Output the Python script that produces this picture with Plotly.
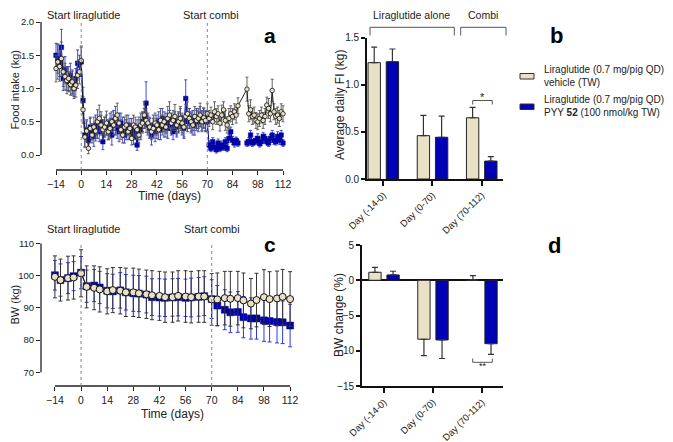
import plotly.graph_objects as go

# The page body adds an 8 px margin; the figure is sized and positioned to compensate.
OFF = 8
W, H = 665, 434
def px(x): return (x - OFF) / W
def py(y): return 1 - (y - OFF) / H

FONT = "Liberation Sans, Arial, sans-serif"
BEIGE = "#E9E1C6"
BLUE = "#0000B4"
BLUE_ERR = "#2B3AD8"

# ---------------- Panel a: daily food intake ----------------
fi_days = list(range(-14, 113))
fi_vehicle = [
    1.30, 1.40, 1.33, 1.45, 1.25, 1.18, 1.12, 1.15, 1.06, 1.10, 1.00, 1.05, 1.20, 1.25, 1.42,
    0.68, 0.27, 0.36, 0.10, 0.40, 0.30, 0.42, 0.36, 0.50, 0.55, 0.45, 0.38, 0.42, 0.48, 0.35, 0.40, 0.50, 0.45, 0.55, 0.60,
    0.48, 0.38, 0.30, 0.42, 0.45, 0.35, 0.40, 0.25, 0.45, 0.42, 0.38, 0.30, 0.45, 0.48, 0.60, 0.52, 0.48, 0.42, 0.35, 0.40,
    0.48, 0.45, 0.38, 0.52, 0.45, 0.50, 0.42, 0.55, 0.60, 0.48, 0.52, 0.58, 0.45, 0.50, 0.55, 0.48, 0.42, 0.58, 0.62, 0.55,
    0.50, 0.45, 0.58, 0.52, 0.55, 0.60, 0.50, 0.56, 0.52, 0.62, 0.55, 0.60, 0.50, 0.65, 0.58, 0.62, 0.48, 0.60, 0.68, 0.52,
    0.45, 0.55, 0.62, 0.58, 0.65, 0.60, 0.74, None, None, None, None, 0.99, 0.62, 0.68, 0.58, 0.60, 0.52, 0.50, 0.55, 0.60,
    0.52, 0.58, 0.75, 0.70, 0.62, 0.97, 0.65, 0.58, 0.60, 0.55, 0.65, 0.62,
]
fi_vehicle_err = [
    0.20, 0.26, 0.22, 0.25, 0.22, 0.20, 0.20, 0.18, 0.16, 0.18, 0.15, 0.18, 0.20, 0.18, 0.22,
    0.20, 0.15, 0.15, 0.08, 0.15, 0.12, 0.15, 0.15, 0.18, 0.20, 0.15, 0.15, 0.15, 0.18, 0.12, 0.15, 0.15, 0.15, 0.18, 0.18,
    0.15, 0.15, 0.12, 0.15, 0.15, 0.12, 0.15, 0.10, 0.15, 0.15, 0.15, 0.12, 0.18, 0.15, 0.20, 0.18, 0.15, 0.15, 0.12, 0.15,
    0.15, 0.15, 0.15, 0.18, 0.15, 0.15, 0.15, 0.18, 0.20, 0.15, 0.15, 0.18, 0.15, 0.15, 0.18, 0.15, 0.15, 0.18, 0.18, 0.15,
    0.15, 0.15, 0.15, 0.15, 0.15, 0.18, 0.15, 0.15, 0.15, 0.15, 0.12, 0.12, 0.12, 0.15, 0.12, 0.12, 0.12, 0.15, 0.12, 0.15,
    0.12, 0.15, 0.12, 0.12, 0.12, 0.12, 0.12, 0, 0, 0, 0, 0.18, 0.12, 0.15, 0.12, 0.12, 0.12, 0.12, 0.12, 0.12,
    0.12, 0.12, 0.12, 0.15, 0.12, 0.17, 0.12, 0.12, 0.12, 0.12, 0.12, 0.12,
]
fi_pyy = [
    1.50, 1.45, 1.38, 1.62, 1.15, 1.28, 1.15, 1.10, 1.20, 1.08, 1.00, 1.15, 1.38, 1.35, 1.40,
    0.82, 0.30, 0.38, 0.22, 0.42, 0.35, 0.28, 0.45, 0.40, 0.35, 0.50, 0.20, 0.42, 0.45, 0.38, 0.48, 0.30, 0.52, 0.45, 0.40,
    0.35, 0.48, 0.42, 0.30, 0.38, 0.45, 0.35, 0.40, 0.28, 0.35, 0.15, 0.42, 0.38, 0.50, 0.55, 0.78, 0.45, 0.40, 0.30, 0.45,
    0.35, 0.40, 0.50, 0.38, 0.55, 0.42, 0.48, 0.40, 0.52, 0.45, 0.35, 0.50, 0.42, 0.48, 0.55, 0.45, 0.40, 0.85, 0.50, 0.55,
    0.48, 0.52, 0.45, 0.55, 0.50, 0.58, 0.52, 0.55, 0.50, 0.50, 0.15, 0.10, 0.20, 0.12, 0.08, 0.18, 0.10, 0.15, 0.12, 0.20,
    0.10, 0.25, 0.35, 0.22, 0.18, 0.22, 0.18, None, None, None, None, 0.18, 0.20, 0.30, 0.18, 0.20, 0.22, 0.25, 0.17, 0.20,
    0.28, 0.25, 0.20, 0.18, 0.25, 0.30, 0.22, 0.20, 0.28, 0.22, 0.30, 0.18,
]
fi_pyy_err = [
    0.18, 0.22, 0.20, 0.27, 0.18, 0.20, 0.18, 0.15, 0.18, 0.18, 0.12, 0.15, 0.20, 0.15, 0.22,
    0.20, 0.18, 0.15, 0.12, 0.15, 0.12, 0.15, 0.15, 0.15, 0.15, 0.15, 0.12, 0.15, 0.15, 0.15, 0.15, 0.15, 0.15, 0.15, 0.15,
    0.15, 0.15, 0.15, 0.12, 0.15, 0.15, 0.12, 0.15, 0.12, 0.12, 0.08, 0.15, 0.15, 0.15, 0.15, 0.32, 0.15, 0.15, 0.15, 0.15,
    0.15, 0.15, 0.15, 0.15, 0.15, 0.15, 0.15, 0.15, 0.15, 0.15, 0.12, 0.15, 0.15, 0.15, 0.15, 0.15, 0.15, 0.28, 0.15, 0.15,
    0.15, 0.15, 0.15, 0.15, 0.15, 0.15, 0.15, 0.15, 0.15, 0.15, 0.06, 0.05, 0.06, 0.06, 0.05, 0.06, 0.05, 0.06, 0.05, 0.06,
    0.05, 0.06, 0.07, 0.06, 0.06, 0.05, 0.05, 0, 0, 0, 0, 0.05, 0.06, 0.07, 0.05, 0.05, 0.06, 0.07, 0.05, 0.06,
    0.06, 0.06, 0.05, 0.05, 0.06, 0.07, 0.06, 0.05, 0.07, 0.06, 0.07, 0.05,
]

# ---------------- Panel c: body weight ----------------
bw_days = [-14, -11, -7, -4, 0, 3, 7, 10, 14, 17, 21, 24, 28, 31, 35, 38, 42, 45, 49, 52, 56,
           59, 63, 66, 70, 73, 77, 80, 84, 87, 91, 94, 98, 101, 105, 108, 112]
bw_vehicle = [99.6, 98.6, 99.2, 99.4, 100.7, 96.5, 96.2, 95.7, 95.1, 95.5, 95.3, 94.8, 94.8, 94.5,
              94.2, 93.9, 93.7, 93.3, 93.3, 93.7, 93.5, 93.3, 93.5, 93.5, 92.6, 92.6, 93.0, 92.8,
              93.0, 92.3, 91.3, 92.4, 93.3, 92.7, 92.9, 93.4, 92.7]
bw_vehicle_err = [6.5, 6.5, 6.8, 6.7, 7.3, 6.5, 6.8, 7.0, 7.0, 7.0, 7.2, 7.5, 7.5, 7.5, 7.5, 7.6,
                  7.6, 7.8, 7.8, 7.8, 8.0, 8.0, 8.0, 8.0, 8.0, 8.2, 8.3, 8.5, 8.3, 8.5, 7.8, 8.3,
                  8.5, 8.5, 8.5, 8.5, 8.5]
bw_pyy = [100.1, 98.6, 99.2, 99.8, 100.9, 96.7, 96.9, 96.3, 95.3, 95.1, 95.4, 94.8, 94.5, 94.4,
          94.1, 93.3, 93.2, 93.1, 93.2, 93.3, 93.1, 93.2, 93.4, 93.6, 92.7, 90.7, 89.4, 88.6,
          88.7, 87.1, 86.7, 86.7, 86.1, 85.9, 85.6, 85.5, 84.5]
bw_pyy_err = [4.6, 5.0, 4.8, 4.5, 5.0, 5.0, 5.0, 5.0, 5.3, 5.3, 5.5, 5.5, 5.6, 5.6, 5.7, 5.7,
              5.8, 5.8, 5.8, 5.8, 5.8, 6.0, 6.0, 6.0, 6.0, 6.2, 6.2, 6.3, 6.3, 6.4, 6.4, 6.4,
              6.5, 6.5, 6.5, 6.6, 6.6]

# ---------------- Panels b and d: period summaries ----------------
periods = ["Day (-14-0)", "Day (0-70)", "Day (70-112)"]
fi_avg_vehicle = [1.235, 0.46, 0.65]
fi_avg_vehicle_err = [0.165, 0.215, 0.11]
fi_avg_pyy = [1.245, 0.443, 0.19]
fi_avg_pyy_err = [0.135, 0.225, 0.047]

bwc_vehicle = [1.13, -8.37, 0.05]
bwc_vehicle_err_up = [0.71, 0, 0.6]
bwc_vehicle_err_dn = [0, 2.33, 0]
bwc_pyy = [0.75, -8.47, -9.0]
bwc_pyy_err_up = [0.53, 0, 0]
bwc_pyy_err_dn = [0, 2.63, 1.5]

legend_labels = ["Liraglutide (0.7 mg/pig QD) +<br>vehicle (TW)",
                 "Liraglutide (0.7 mg/pig QD) +<br>PYY <b>52</b> (100 nmol/kg TW)"]

fig = go.Figure()

# Panel a traces
fig.add_trace(go.Scatter(
    x=fi_days, y=fi_pyy, mode="lines+markers", xaxis="x", yaxis="y",
    line=dict(color=BLUE, width=1), connectgaps=False,
    marker=dict(symbol="square", size=4.5, color=BLUE, line=dict(color="#00007a", width=0.5)),
    error_y=dict(type="data", array=fi_pyy_err, color=BLUE_ERR, thickness=0.9, width=1.5),
    showlegend=False, cliponaxis=False))
fig.add_trace(go.Scatter(
    x=fi_days, y=fi_vehicle, mode="lines+markers", xaxis="x", yaxis="y",
    line=dict(color="#222222", width=1), connectgaps=True,
    marker=dict(symbol="circle", size=4.5, color=BEIGE, line=dict(color="#111111", width=0.8)),
    error_y=dict(type="data", array=fi_vehicle_err, color="#555555", thickness=0.9, width=1.5),
    showlegend=False, cliponaxis=False))

# Panel c traces
fig.add_trace(go.Scatter(
    x=bw_days, y=bw_pyy, mode="lines+markers", xaxis="x3", yaxis="y3",
    line=dict(color=BLUE, width=1),
    marker=dict(symbol="square", size=7, color=BLUE, line=dict(color="#00007a", width=0.5)),
    error_y=dict(type="data", array=bw_pyy_err, color=BLUE_ERR, thickness=1, width=2),
    showlegend=False, cliponaxis=False))
fig.add_trace(go.Scatter(
    x=bw_days, y=bw_vehicle, mode="lines+markers", xaxis="x3", yaxis="y3",
    line=dict(color="#222222", width=1),
    marker=dict(symbol="circle", size=7, color=BEIGE, line=dict(color="#111111", width=1)),
    error_y=dict(type="data", array=bw_vehicle_err, color="#333333", thickness=1, width=2),
    showlegend=False, cliponaxis=False))

# Panel b bars
BW_ = 0.251
fig.add_trace(go.Bar(
    x=periods, y=fi_avg_vehicle, xaxis="x2", yaxis="y2", width=BW_, offset=-0.31,
    marker=dict(color=BEIGE, line=dict(color="#222222", width=1)),
    error_y=dict(type="data", array=fi_avg_vehicle_err, arrayminus=[0, 0, 0], symmetric=False,
                 color="#333333", thickness=1.2, width=3),
    showlegend=False))
fig.add_trace(go.Bar(
    x=periods, y=fi_avg_pyy, xaxis="x2", yaxis="y2", width=BW_, offset=0.06,
    marker=dict(color=BLUE, line=dict(color="#222222", width=1)),
    error_y=dict(type="data", array=fi_avg_pyy_err, arrayminus=[0, 0, 0], symmetric=False,
                 color="#333333", thickness=1.2, width=3),
    showlegend=False))

# Panel d bars
fig.add_trace(go.Bar(
    x=periods, y=bwc_vehicle, xaxis="x4", yaxis="y4", width=BW_, offset=-0.31,
    marker=dict(color=BEIGE, line=dict(color="#222222", width=1)),
    error_y=dict(type="data", array=bwc_vehicle_err_up, arrayminus=bwc_vehicle_err_dn, symmetric=False,
                 color="#333333", thickness=1.2, width=3),
    showlegend=False))
fig.add_trace(go.Bar(
    x=periods, y=bwc_pyy, xaxis="x4", yaxis="y4", width=BW_, offset=0.06,
    marker=dict(color=BLUE, line=dict(color="#222222", width=1)),
    error_y=dict(type="data", array=bwc_pyy_err_up, arrayminus=bwc_pyy_err_dn, symmetric=False,
                 color="#333333", thickness=1.2, width=3),
    showlegend=False))

tickfont = dict(family=FONT, size=10.5, color="#222222")
ytickfont = dict(family=FONT, size=9.5, color="#222222")
common_time_x = dict(tickmode="array", tickvals=[-14, 0, 14, 28, 42, 56, 70, 84, 98, 112],
                     ticks="outside", ticklen=4, tickwidth=1.3, tickcolor="#222222",
                     showline=False, showgrid=False, zeroline=False, tickfont=tickfont,
                     automargin=False)
common_y = dict(ticks="outside", ticklen=4, tickwidth=1.3, tickcolor="#222222",
                showline=False, showgrid=False, zeroline=False, tickfont=ytickfont,
                automargin=False)

fig.update_layout(
    template="none",
    width=W, height=H, margin=dict(l=0, r=0, t=0, b=0, pad=0),
    plot_bgcolor="white", paper_bgcolor="white",
    font=dict(family=FONT, color="#222222"),
    barmode="overlay",
    xaxis=dict(domain=[px(41), px(285.7)], range=[-22.33, 113.5], anchor="y", **common_time_x),
    yaxis=dict(domain=[py(170), py(22)], range=[-0.2256, 2.0], anchor="x",
               tickvals=[0, 0.5, 1.0, 1.5, 2.0], tickformat=".1f", **common_y),
    xaxis3=dict(domain=[px(41), px(292.9)], range=[-21.45, 113.5], anchor="y3", **common_time_x),
    yaxis3=dict(domain=[py(386), py(243.3)], range=[65.75, 110], anchor="x3",
                tickvals=[70, 80, 90, 100, 110], **common_y),
    xaxis2=dict(domain=[px(367), px(503)], range=[-0.331, 2.433], anchor="y2",
                showline=True, linecolor="#111111", linewidth=1.8, ticks="outside", ticklen=5,
                tickwidth=1.8, tickcolor="#111111", tickangle=-45, showgrid=False, automargin=False,
                tickfont=dict(family=FONT, size=9.5, color="#222222")),
    yaxis2=dict(domain=[py(179), py(37.7)], range=[0, 1.5], anchor="x2",
                showline=True, linecolor="#111111", linewidth=1.8, ticks="outside", ticklen=4,
                tickwidth=1.5, tickcolor="#111111", showgrid=False, zeroline=False, automargin=False,
                tickvals=[0, 0.5, 1.0, 1.5], tickformat=".1f",
                tickfont=dict(family=FONT, size=10, color="#222222")),
    xaxis4=dict(domain=[px(362), px(503)], range=[-0.449, 2.43], anchor="y4",
                showline=True, linecolor="#111111", linewidth=1.8, ticks="outside", ticklen=5,
                tickwidth=1.8, tickcolor="#111111", tickangle=-45, showgrid=False, automargin=False,
                tickfont=dict(family=FONT, size=9.5, color="#222222")),
    yaxis4=dict(domain=[py(386), py(245)], range=[-15, 5], anchor="x4",
                showline=True, linecolor="#111111", linewidth=1.8, ticks="outside", ticklen=4,
                tickwidth=1.5, tickcolor="#111111", showgrid=False, automargin=False,
                zeroline=True, zerolinecolor="#111111", zerolinewidth=1.8,
                tickvals=[-15, -10, -5, 0, 5],
                tickfont=dict(family=FONT, size=10, color="#222222")),
)

shapes = []
axis_line = dict(color="#222222", width=1.3)
shapes.append(dict(type="line", xref="x domain", x0=0, x1=0, yref="y", y0=0, y1=2.0, line=axis_line))
shapes.append(dict(type="line", xref="x", x0=-14, x1=112, yref="y domain", y0=0, y1=0, line=axis_line))
shapes.append(dict(type="line", xref="x3 domain", x0=0, x1=0, yref="y3", y0=70, y1=110, line=axis_line))
shapes.append(dict(type="line", xref="x3", x0=-14, x1=112, yref="y3 domain", y0=0, y1=0, line=axis_line))
for d in (0, 70):
    shapes.append(dict(type="line", xref="x", x0=d, x1=d, yref="y domain", y0=0, y1=1,
                       line=dict(color="#888888", width=1, dash="dot")))
    shapes.append(dict(type="line", xref="x3", x0=d, x1=d, yref="y3 domain", y0=0, y1=1,
                       line=dict(color="#888888", width=1, dash="dot")))

def bracket(x0, x1, ytop, ybot, color="#444444", w=1):
    pts = f"M {px(x0)} {py(ybot)} L {px(x0)} {py(ytop)} L {px(x1)} {py(ytop)} L {px(x1)} {py(ybot)}"
    return dict(type="path", xref="paper", yref="paper", path=pts, line=dict(color=color, width=w))

shapes.append(bracket(370, 454.3, 27.3, 35.5, "#555555", 1))
shapes.append(bracket(460.7, 506, 27.3, 35.5, "#555555", 1))
shapes.append(bracket(472.7, 492.3, 100.5, 104.5, "#555555", 1))
shapes.append(bracket(472.7, 492.3, 362.3, 358.5, "#555555", 1))

shapes.append(dict(type="rect", xref="paper", yref="paper", x0=px(520), x1=px(534), y0=py(79), y1=py(73.5),
                   fillcolor=BEIGE, line=dict(color="#333333", width=1)))
shapes.append(dict(type="rect", xref="paper", yref="paper", x0=px(520), x1=px(534), y0=py(109.5), y1=py(104),
                   fillcolor=BLUE, line=dict(color="#333333", width=1)))
fig.update_layout(shapes=shapes)

ann = []
def text(x, y, s, size=11, bold=False, xanchor="center", angle=0, color="#222222"):
    ann.append(dict(xref="paper", yref="paper", x=px(x), y=py(y), text=(f"<b>{s}</b>" if bold else s),
                    showarrow=False, xanchor=xanchor, yanchor="middle", textangle=angle,
                    font=dict(family=FONT, size=size, color=color)))

text(83, 15, "Start liraglutide", 11)
text(211, 15, "Start combi", 11)
text(270, 35, "a", 21, bold=True, color="#000000")
text(14.5, 90, "Food intake (kg)", 11, angle=-90)
text(169, 196, "Time (days)", 12)

text(83, 229, "Start liraglutide", 11)
text(212, 229, "Start combi", 11)
text(270, 244, "c", 21, bold=True, color="#000000")
text(14.5, 305, "BW (kg)", 11, angle=-90)
text(172, 414, "Time (days)", 12)

text(411.7, 15, "Liraglutide alone", 10.5)
text(483.3, 15, "Combi", 10.5)
text(556.7, 35, "b", 22, bold=True, color="#000000")
text(340, 105, "Average daily FI (kg)", 12, angle=-90)
text(482.5, 97, "*", 11)

text(554.3, 245, "d", 22, bold=True, color="#000000")
text(339, 315, "BW change (%)", 12, angle=-90)
text(482.5, 366, "**", 9)

ann.append(dict(xref="paper", yref="paper", x=px(542), y=py(76.3), text=legend_labels[0], showarrow=False,
                xanchor="left", yanchor="middle", align="left",
                font=dict(family=FONT, size=10, color="#222222")))
ann.append(dict(xref="paper", yref="paper", x=px(542), y=py(105.5), text=legend_labels[1], showarrow=False,
                xanchor="left", yanchor="middle", align="left",
                font=dict(family=FONT, size=10, color="#222222")))
fig.update_layout(annotations=ann)

fig.write_html("out.html")
